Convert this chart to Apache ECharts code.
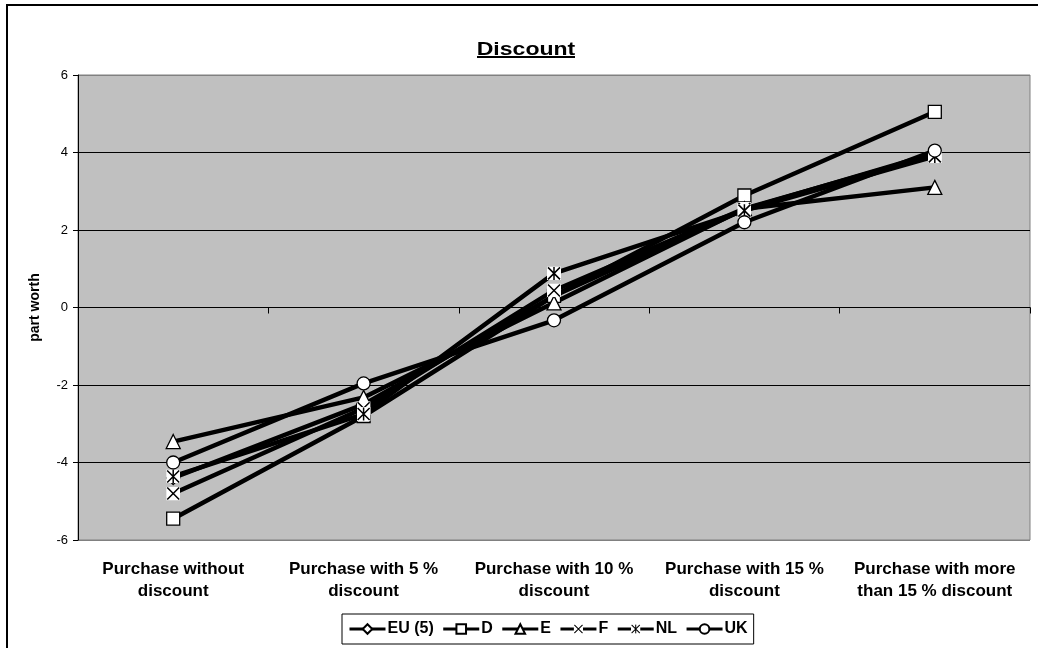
<!DOCTYPE html>
<html><head><meta charset="utf-8">
<script src="https://cdn.jsdelivr.net/npm/echarts@6/dist/echarts.min.js"></script>
<style>html,body{margin:0;padding:0;background:#fff}#c{width:1038px;height:648px}</style>
</head><body><div id="c"></div>
<script>
const categories = ['Purchase without\ndiscount','Purchase with 5 %\ndiscount','Purchase with 10 %\ndiscount','Purchase with 15 %\ndiscount','Purchase with more\nthan 15 % discount'];
const yTicks = {min:-6, max:6, interval:2};
const seriesNames = ['EU (5)','D','E','F','NL','UK'];
const EU = [-4.4, -2.5, 0.3, 2.53, 3.98];
const D  = [-5.45, -2.8, 0.3, 2.89, 5.05];
const E  = [-3.46, -2.32, 0.12, 2.55, 3.1];
const F  = [-4.8, -2.6, 0.44, 2.55, 3.95];
const NL = [-4.36, -2.75, 0.88, 2.5, 3.9];
const UK = [-4.0, -1.96, -0.33, 2.2, 4.05];
const values = [EU, D, E, F, NL, UK];

function svgSym(inner){
  const s = '<svg xmlns="http://www.w3.org/2000/svg" width="28" height="28" viewBox="0 0 14 14">'+inner+'</svg>';
  return 'image://data:image/svg+xml;charset=utf-8,' + encodeURIComponent(s);
}
const xSym = svgSym('<rect x="0" y="0" width="14" height="14" fill="#fff"/><path d="M1,1 L13,13 M13,1 L1,13" stroke="#000" stroke-width="1.5" fill="none"/>');
const astSym = svgSym('<rect x="0" y="0" width="14" height="14" fill="#fff"/><path d="M1,1 L13,13 M13,1 L1,13 M7,0.5 L7,13.5" stroke="#000" stroke-width="1.5" fill="none"/>');
const symbols = ['diamond','rect','triangle',xSym,astSym,'circle'];
const sizes = [13,13,14,14,14,13];

const FONT = '"Liberation Sans", Arial, sans-serif';
const chart = echarts.init(document.getElementById('c'), null, {renderer:'canvas'});
chart.setOption({
  animation:false,
  backgroundColor:'#fff',
  textStyle:{fontFamily:FONT},
  grid:{left:78, right:8, top:75, bottom:108, show:true, backgroundColor:'#C0C0C0', borderColor:'#808080', borderWidth:1},
  legend:{
    bottom:4, left:342, data:seriesNames,
    borderColor:'#000', borderWidth:1, padding:[7,6,7,6], itemGap:8,
    itemWidth:36, itemHeight:12,
    lineStyle:{width:3},
    textStyle:{fontSize:16, fontWeight:'bold', color:'#000', fontFamily:FONT, padding:[0,0,0,-3]}
  },
  xAxis:[
    {type:'category', data:categories, position:'bottom', boundaryGap:true,
     axisLine:{show:false, onZero:false}, axisTick:{show:false}, splitLine:{show:false},
     axisLabel:{fontSize:17, fontWeight:'bold', color:'#000', fontFamily:FONT, margin:18, lineHeight:22, interval:0}},
    {type:'category', data:categories, position:'bottom', boundaryGap:true,
     axisLine:{show:true, onZero:true, lineStyle:{color:'#000', width:1}},
     axisTick:{show:true, length:6, lineStyle:{color:'#000'}},
     axisLabel:{show:false}, splitLine:{show:false}}
  ],
  yAxis:{type:'value', min:yTicks.min, max:yTicks.max, interval:yTicks.interval,
    name:'part worth', nameLocation:'middle', nameGap:36, nameRotate:90,
    nameTextStyle:{fontSize:14, fontWeight:'bold', color:'#000', fontFamily:FONT},
    axisLine:{show:true, lineStyle:{color:'#000', width:1}},
    axisTick:{show:true, length:5, lineStyle:{color:'#000'}},
    axisLabel:{fontSize:13, color:'#000', fontFamily:FONT, margin:10},
    splitLine:{show:true, lineStyle:{color:['#808080','#000','#000','#000','#000','#000','#808080'], width:1}}
  },
  graphic:[
    {type:'rect', shape:{x:7, y:5, width:1050, height:660}, style:{fill:'none', stroke:'#000', lineWidth:2}, silent:true},
    {type:'text', x:526, y:59, scaleX:1.28, style:{text:'Discount', font:'bold 18px '+FONT, fill:'#000', align:'center', verticalAlign:'bottom'}, silent:true},
    {type:'line', shape:{x1:477, y1:57, x2:575, y2:57}, style:{stroke:'#000', lineWidth:2}, silent:true}
  ],
  series: seriesNames.map((n,i)=>({
    name:n, type:'line', data:values[i], xAxisIndex:0,
    symbol:symbols[i], symbolSize:sizes[i], showAllSymbol:true,
    lineStyle:{color:'#000', width:4.5},
    itemStyle:{color:'#fff', borderColor:'#000', borderWidth:1.3},
    emphasis:{disabled:true}
  }))
});
</script></body></html>
